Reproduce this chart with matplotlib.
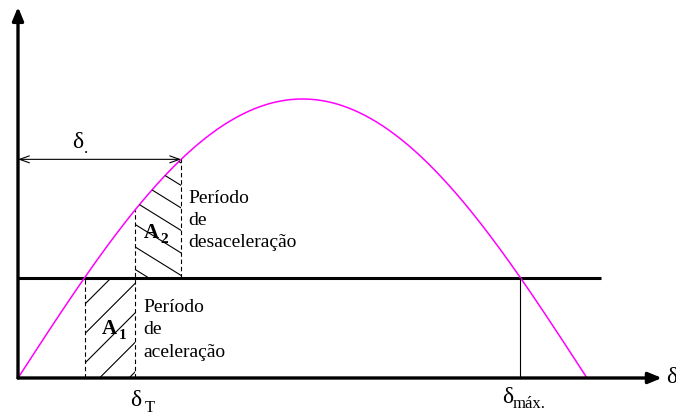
import numpy as np
import matplotlib.pyplot as plt
from matplotlib.patches import Polygon

plt.rcParams['font.family'] = 'Liberation Serif'

# power-angle curve P = Pmax sin(delta), delta in degrees
p_max = 1.0
p_m = 0.36                      # mechanical power (horizontal line)
delta_curve = np.linspace(0, 180, 361)
p_curve = p_max * np.sin(np.radians(delta_curve))

delta_0 = np.degrees(np.arcsin(p_m / p_max))   # curve meets P_m
delta_t = 37.0                                  # delta_T
delta_c = 51.6                                  # delta_.
delta_max = 180 - delta_0                       # delta_max.

# axis extents
delta_axis_end = 203.7
p_axis_end = 1.33
p_line_end = 184.4

W, H = 676, 417
fig = plt.figure(figsize=(W / 100, H / 100), dpi=100)
ax = fig.add_axes([0, 0, 1, 1])
ax.set_xlim(-5.694, 208.16)
ax.set_ylim(-0.1398, 1.3548)
ax.axis('off')


def sin_d(d):
    return p_max * np.sin(np.radians(d))


def hatch(xs, ys, slope, step, x_ref, y_ref):
    # parallel lines in pixel space, clipped to the polygon (xs, ys)
    patch = Polygon(np.column_stack([xs, ys]), closed=True, fc='none', ec='none')
    ax.add_patch(patch)
    pts = ax.transData.transform(np.column_stack([xs, ys]))
    xa, xb = pts[:, 0].min() - 5, pts[:, 0].max() + 5
    inv = ax.transData.inverted()
    for k in range(-20, 21):
        c = y_ref + k * step
        seg = np.array([[xa, c + slope * (xa - x_ref)], [xb, c + slope * (xb - x_ref)]])
        d = inv.transform(seg)
        ln, = ax.plot(d[:, 0], d[:, 1], color='k', lw=0.8)
        ln.set_clip_path(patch)


# axes with arrow heads
axis_arrow = dict(arrowstyle='-|>,head_length=0.8,head_width=0.33', lw=2.4,
                  color='k', shrinkA=0, shrinkB=0)
ax.annotate('', xy=(delta_axis_end, 0), xytext=(0, 0), arrowprops=axis_arrow)
ax.annotate('', xy=(0, p_axis_end), xytext=(0, 0), arrowprops=axis_arrow)

# mechanical power line
ax.plot([0, p_line_end], [p_m, p_m], color='k', lw=2.2, solid_capstyle='butt')

# electrical power curve
ax.plot(delta_curve, p_curve, color='#ff00ff', lw=1.1)

# areas A1 (acceleration) and A2 (deceleration)
hatch([delta_0, delta_t, delta_t, delta_0], [0, 0, p_m, p_m],
      slope=1.0, step=29.5, x_ref=85, y_ref=H - 304)
d2 = np.linspace(delta_t, delta_c, 50)
hatch(np.r_[d2, delta_c, delta_t], np.r_[sin_d(d2), p_m, p_m],
      slope=-0.62, step=22.5, x_ref=182, y_ref=H - 186)

# dashed guides
dash = dict(color='k', lw=0.8, ls=(0, (4, 2.5)))
ax.plot([delta_0, delta_0], [0, p_m], **dash)
ax.plot([delta_t, delta_t], [0, sin_d(delta_t)], **dash)
ax.plot([delta_c, delta_c], [p_m, sin_d(delta_c)], **dash)

# delta_max marker
ax.plot([delta_max, delta_max], [0, p_m], color='k', lw=0.8)

# delta_. span
ax.annotate('', xy=(delta_c, sin_d(delta_c)), xytext=(0, sin_d(delta_c)),
            arrowprops=dict(arrowstyle='<->,head_length=0.7,head_width=0.25',
                            lw=0.8, color='k', shrinkA=0, shrinkB=0))


def label(px, py, s, size=14, **kw):
    fig.text(px / W, 1 - py / H, s, fontsize=size, ha='left', va='baseline', **kw)


label(188, 203, 'Período')
label(188, 225, 'de')
label(188, 247, 'desaceleração')
label(143, 312, 'Período')
label(143, 334, 'de')
label(143, 357, 'aceleração')

label(144, 238, 'A', 15, weight='bold')
label(160, 243, '2', 11, weight='bold')
label(102, 334, 'A', 15, weight='bold')
label(119, 339, '1', 11, weight='bold')

label(130, 406, 'δ', 17)
label(145, 412, 'T', 12)
label(502, 403, 'δ', 17)
label(513, 408, 'máx.', 12)
label(666, 383, 'δ', 17)
label(72, 148, 'δ', 17)
label(84, 153, '.', 12)

fig.savefig('out.png', dpi=100)
